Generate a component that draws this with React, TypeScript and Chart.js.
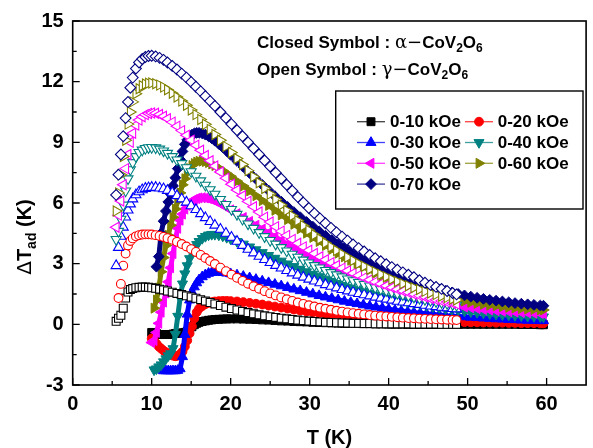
import React, { useEffect, useRef } from "react";
import { Chart, registerables } from "chart.js";
import { drawPoint } from "chart.js/helpers";

Chart.register(...registerables);

const FONT = '"Liberation Sans", Arial, Helvetica, sans-serif';

const FIELDS = ["0-10 kOe", "0-20 kOe", "0-30 kOe", "0-40 kOe", "0-50 kOe", "0-60 kOe", "0-70 kOe"];
const COLORS = ["#000000", "#FF0000", "#0000FF", "#008080", "#FF00FF", "#808000", "#000080"];
const X_TICKS = [0, 10, 20, 30, 40, 50, 60];
const Y_TICKS = [-3, 0, 3, 6, 9, 12, 15];

// temperature grid of the gamma-CoV2O6 (open symbol) curves
const T_OPEN = [
  5.5, 5.8, 6.1, 6.4, 6.7, 7.0, 7.3, 7.6, 8.0, 8.4,
  8.8, 9.2, 9.6, 10.0, 10.5, 11.0, 11.5, 12.0, 12.6, 13.2,
  13.8, 14.4, 15.0, 15.6, 16.2, 16.8, 17.4, 18.0, 18.7, 19.4,
  20.1, 20.8, 21.5, 22.2, 22.9, 23.6, 24.3, 25.0, 25.7, 26.4,
  27.1, 27.8, 28.5, 29.2, 29.9, 30.6, 31.3, 32.0, 32.7, 33.4,
  34.1, 34.8, 35.5, 36.2, 36.9, 37.6, 38.3, 39.0, 39.7, 40.4,
  41.1, 41.8, 42.5, 43.2, 43.9, 44.6, 45.3, 46.0, 46.7, 47.4,
  48.1, 48.6,
];

// temperature grid of the alpha-CoV2O6 (closed symbol) curves
const T_CLOSED = [
  10.0, 10.3, 10.6, 10.9, 11.2, 11.5, 11.8, 12.1, 12.4, 12.7,
  13.0, 13.3, 13.6, 13.9, 14.2, 14.5, 14.8, 15.1, 15.4, 15.7,
  16.0, 16.4, 16.8, 17.2, 17.6, 18.0, 18.5, 19.0, 19.5, 20.0,
  20.8, 21.6, 22.4, 23.2, 24.0, 24.8, 25.6, 26.4, 27.2, 28.0,
  28.8, 29.6, 30.4, 31.2, 32.0, 32.8, 33.6, 34.4, 35.2, 36.0,
  36.8, 37.6, 38.4, 39.2, 40.0, 40.8, 41.6, 42.4, 43.2, 44.0,
  44.8, 45.6, 46.4, 47.2, 48.0, 48.8, 49.6, 50.4, 51.2, 52.0,
  52.8, 53.6, 54.4, 55.2, 56.0, 56.8, 57.6, 58.4, 59.2, 59.6,
];

// gamma-CoV2O6, open symbols
const OPEN_10 = [
  0.15, 0.3, 0.45, 0.8, 1.3, 1.6, 1.72, 1.77, 1.81, 1.83,
  1.84, 1.84, 1.83, 1.81, 1.78, 1.74, 1.7, 1.65, 1.59, 1.53,
  1.47, 1.41, 1.35, 1.29, 1.22, 1.15, 1.08, 1.01, 0.93, 0.85,
  0.78, 0.71, 0.64, 0.58, 0.52, 0.47, 0.42, 0.38, 0.34, 0.3,
  0.27, 0.24, 0.21, 0.18, 0.16, 0.14, 0.12, 0.1, 0.09, 0.08,
  0.07, 0.06, 0.05, 0.05, 0.04, 0.04, 0.03, 0.03, 0.03, 0.02,
  0.02, 0.02, 0.02, 0.01, 0.01, 0.01, 0.01, 0.01, 0, 0,
  0, 0,
];
const OPEN_20 = [
  null, 1.3, 2.0, 2.9, 3.5, 3.9, 4.12, 4.25, 4.35, 4.41,
  4.44, 4.45, 4.45, 4.44, 4.41, 4.37, 4.32, 4.26, 4.18, 4.08,
  3.97, 3.85, 3.72, 3.58, 3.43, 3.28, 3.13, 2.98, 2.8, 2.63,
  2.46, 2.3, 2.15, 2.01, 1.88, 1.76, 1.64, 1.53, 1.43, 1.33,
  1.24, 1.16, 1.08, 1.01, 0.94, 0.88, 0.82, 0.77, 0.72, 0.67,
  0.63, 0.59, 0.55, 0.52, 0.49, 0.46, 0.43, 0.41, 0.39, 0.37,
  0.35, 0.33, 0.31, 0.3, 0.28, 0.27, 0.26, 0.25, 0.24, 0.23,
  0.22, 0.21,
];
const OPEN_30 = [
  2.9, 3.8, 4.35, 4.8, 5.3, 5.65, 5.95, 6.2, 6.4, 6.55,
  6.65, 6.72, 6.75, 6.77, 6.77, 6.74, 6.7, 6.62, 6.5, 6.36,
  6.2, 6.04, 5.86, 5.67, 5.47, 5.27, 5.08, 4.9, 4.7, 4.5,
  4.3, 4.1, 3.9, 3.71, 3.53, 3.36, 3.2, 3.05, 2.91, 2.78,
  2.66, 2.54, 2.43, 2.33, 2.23, 2.14, 2.05, 1.96, 1.88, 1.8,
  1.72, 1.65, 1.58, 1.52, 1.46, 1.4, 1.34, 1.29, 1.24, 1.19,
  1.14, 1.1, 1.06, 1.02, 0.98, 0.94, 0.9, 0.87, 0.84, 0.81,
  0.78, 0.76,
];
const OPEN_40 = [
  4.2, 4.6, 5.2, 5.9, 6.6, 7.2, 7.65, 8.0, 8.3, 8.5,
  8.62, 8.7, 8.74, 8.75, 8.73, 8.67, 8.58, 8.46, 8.3, 8.13,
  7.95, 7.75, 7.55, 7.33, 7.1, 6.88, 6.66, 6.44, 6.18, 5.93,
  5.68, 5.44, 5.2, 4.97, 4.75, 4.54, 4.34, 4.15, 3.97, 3.8,
  3.63, 3.47, 3.32, 3.18, 3.04, 2.91, 2.79, 2.67, 2.56, 2.45,
  2.35, 2.25, 2.16, 2.07, 1.98, 1.9, 1.82, 1.74, 1.67, 1.6,
  1.53, 1.47, 1.41, 1.35, 1.29, 1.23, 1.18, 1.13, 1.08, 1.03,
  0.98, 0.95,
];
const OPEN_50 = [
  4.8, 5.4, 6.1, 6.9, 7.7, 8.4, 9.0, 9.45, 9.85, 10.1,
  10.27, 10.37, 10.43, 10.45, 10.44, 10.38, 10.29, 10.17, 10.0, 9.8,
  9.58, 9.35, 9.11, 8.86, 8.61, 8.35, 8.09, 7.83, 7.53, 7.23,
  6.93, 6.64, 6.36, 6.08, 5.81, 5.55, 5.3, 5.06, 4.83, 4.61,
  4.4, 4.2, 4.01, 3.83, 3.66, 3.5, 3.34, 3.19, 3.05, 2.91,
  2.78, 2.65, 2.53, 2.42, 2.31, 2.2, 2.1, 2.0, 1.91, 1.82,
  1.73, 1.65, 1.57, 1.49, 1.42, 1.35, 1.28, 1.22, 1.16, 1.1,
  1.04, 1.0,
];
const OPEN_60 = [
  5.6, 6.5, 7.4, 8.3, 9.1, 9.9, 10.5, 11.0, 11.4, 11.65,
  11.8, 11.88, 11.92, 11.93, 11.9, 11.83, 11.73, 11.6, 11.43, 11.24,
  11.04, 10.83, 10.6, 10.37, 10.13, 9.89, 9.64, 9.39, 9.1, 8.8,
  8.5, 8.2, 7.9, 7.6, 7.3, 7.0, 6.72, 6.44, 6.17, 5.9,
  5.63, 5.37, 5.12, 4.88, 4.65, 4.43, 4.22, 4.02, 3.83, 3.65,
  3.48, 3.32, 3.16, 3.01, 2.87, 2.73, 2.6, 2.47, 2.35, 2.23,
  2.12, 2.01, 1.91, 1.81, 1.72, 1.63, 1.55, 1.47, 1.39, 1.32,
  1.25, 1.2,
];
const OPEN_70 = [
  6.4, 7.4, 8.4, 9.3, 10.2, 11.0, 11.7, 12.2, 12.65, 12.95,
  13.12, 13.22, 13.27, 13.28, 13.25, 13.18, 13.08, 12.95, 12.78, 12.6,
  12.4, 12.2, 11.98, 11.75, 11.52, 11.28, 11.04, 10.8, 10.5, 10.2,
  9.9, 9.6, 9.3, 9.0, 8.7, 8.4, 8.1, 7.8, 7.5, 7.2,
  6.9, 6.6, 6.3, 6.02, 5.75, 5.49, 5.24, 5.0, 4.77, 4.55,
  4.34, 4.14, 3.95, 3.77, 3.6, 3.43, 3.27, 3.12, 2.97, 2.83,
  2.7, 2.57, 2.45, 2.33, 2.18, 2.06, 1.95, 1.85, 1.75, 1.65,
  1.55, 1.48,
];

// alpha-CoV2O6, closed symbols
const CLOSED_10 = [
  -0.4, -0.45, -0.45, -0.5, -0.5, -0.5, -0.5, -0.5, -0.5, -0.48,
  -0.45, -0.45, -0.45, -0.42, -0.4, -0.35, -0.25, -0.12, -0.02, 0.05,
  0.1, 0.14, 0.17, 0.2, 0.22, 0.24, 0.25, 0.26, 0.27, 0.27,
  0.27, 0.26, 0.25, 0.24, 0.22, 0.21, 0.19, 0.17, 0.16, 0.14,
  0.13, 0.12, 0.1, 0.09, 0.08, 0.07, 0.06, 0.05, 0.05, 0.04,
  0.03, 0.03, 0.02, 0.02, 0.01, 0.01, 0.01, 0, 0, 0,
  0, 0, 0, 0, 0, 0, 0, 0, 0, 0,
  0, 0, 0, 0, 0, -0.01, -0.01, -0.01, -0.02, -0.02,
];
const CLOSED_20 = [
  -0.7, -0.8, -0.95, -1.1, -1.2, -1.3, -1.38, -1.45, -1.5, -1.55,
  -1.58, -1.55, -1.48, -1.35, -1.1, -0.8, -0.45, -0.1, 0.3, 0.6,
  0.78, 0.9, 1.0, 1.06, 1.1, 1.13, 1.15, 1.16, 1.16, 1.15,
  1.13, 1.1, 1.06, 1.02, 0.98, 0.93, 0.88, 0.83, 0.78, 0.73,
  0.68, 0.63, 0.59, 0.55, 0.51, 0.47, 0.44, 0.41, 0.38, 0.35,
  0.33, 0.31, 0.29, 0.27, 0.25, 0.23, 0.22, 0.2, 0.19, 0.18,
  0.17, 0.16, 0.15, 0.14, 0.13, 0.12, 0.11, 0.1, 0.1, 0.09,
  0.09, 0.08, 0.08, 0.07, 0.07, 0.06, 0.06, 0.06, 0.05, 0.05,
];
const CLOSED_30 = [
  null, null, null, null, -2.25, -2.3, -2.3, -2.3, -2.3, -2.3,
  -2.3, -2.28, -2.2, -1.6, -0.5, 0.5, 1.2, 1.6, 1.85, 2.05,
  2.2, 2.35, 2.45, 2.52, 2.56, 2.58, 2.58, 2.56, 2.53, 2.5,
  2.44, 2.37, 2.3, 2.22, 2.14, 2.06, 1.98, 1.9, 1.82, 1.74,
  1.66, 1.58, 1.5, 1.42, 1.35, 1.28, 1.21, 1.14, 1.08, 1.02,
  0.96, 0.9, 0.85, 0.8, 0.75, 0.7, 0.66, 0.62, 0.58, 0.55,
  0.52, 0.49, 0.46, 0.43, 0.41, 0.39, 0.37, 0.35, 0.33, 0.31,
  0.29, 0.27, 0.26, 0.24, 0.23, 0.21, 0.2, 0.19, 0.18, 0.18,
];
const CLOSED_40 = [
  null, -2.25, -2.2, -2.1, -2.0, -1.85, -1.7, -1.55, -1.45, -1.2,
  -0.5, 0.4, 1.3, 2.0, 2.5, 2.9, 3.25, 3.55, 3.78, 3.95,
  4.1, 4.25, 4.35, 4.42, 4.45, 4.45, 4.42, 4.37, 4.3, 4.22,
  4.1, 3.97, 3.83, 3.69, 3.55, 3.41, 3.27, 3.13, 2.99, 2.86,
  2.73, 2.6, 2.48, 2.36, 2.24, 2.13, 2.02, 1.92, 1.82, 1.72,
  1.63, 1.54, 1.46, 1.38, 1.31, 1.24, 1.17, 1.11, 1.05, 0.99,
  0.93, 0.88, 0.83, 0.78, 0.74, 0.7, 0.66, 0.62, 0.59, 0.56,
  0.53, 0.5, 0.48, 0.46, 0.44, 0.42, 0.4, 0.39, 0.38, 0.37,
];
const CLOSED_50 = [
  -0.9, -0.8, -0.4, 0.05, 0.6, 1.1, 1.55, 2.1, 2.8, 3.5,
  4.2, 4.75, 5.15, 5.45, 5.7, 5.88, 6.0, 6.1, 6.17, 6.22,
  6.25, 6.26, 6.25, 6.22, 6.17, 6.1, 6.0, 5.9, 5.78, 5.66,
  5.47, 5.28, 5.09, 4.9, 4.71, 4.52, 4.33, 4.15, 3.97, 3.79,
  3.62, 3.45, 3.28, 3.12, 2.97, 2.82, 2.68, 2.54, 2.41, 2.28,
  2.16, 2.04, 1.93, 1.82, 1.72, 1.62, 1.53, 1.44, 1.36, 1.28,
  1.21, 1.14, 1.08, 1.02, 0.96, 0.91, 0.86, 0.82, 0.78, 0.74,
  0.71, 0.68, 0.65, 0.63, 0.61, 0.59, 0.57, 0.55, 0.54, 0.53,
];
const CLOSED_60 = [
  null, 0.8, 1.2, 1.8, 2.6, 3.3, 3.9, 4.4, 4.9, 5.3,
  5.7, 6.1, 6.5, 6.9, 7.2, 7.5, 7.7, 7.85, 7.95, 8.02,
  8.06, 8.07, 8.05, 8.0, 7.93, 7.85, 7.73, 7.6, 7.46, 7.32,
  7.08, 6.84, 6.6, 6.36, 6.12, 5.88, 5.64, 5.41, 5.18, 4.95,
  4.73, 4.51, 4.3, 4.1, 3.9, 3.71, 3.52, 3.34, 3.17, 3.0,
  2.84, 2.69, 2.54, 2.4, 2.27, 2.14, 2.02, 1.91, 1.8, 1.7,
  1.6, 1.51, 1.43, 1.35, 1.28, 1.21, 1.15, 1.09, 1.04, 0.99,
  0.95, 0.91, 0.87, 0.84, 0.81, 0.78, 0.76, 0.74, 0.72, 0.71,
];
const CLOSED_70 = [
  null, null, 2.85, 3.35, 4.5, 5.1, 5.6, 6.05, 6.45, 6.85,
  7.25, 7.7, 8.15, 8.55, 8.9, 9.12, 9.28, 9.38, 9.44, 9.47,
  9.47, 9.44, 9.38, 9.3, 9.2, 9.08, 8.92, 8.75, 8.57, 8.38,
  8.08, 7.78, 7.48, 7.19, 6.9, 6.62, 6.34, 6.07, 5.81, 5.55,
  5.3, 5.06, 4.83, 4.6, 4.38, 4.17, 3.97, 3.77, 3.58, 3.4,
  3.23, 3.07, 2.91, 2.76, 2.62, 2.48, 2.35, 2.23, 2.12, 2.01,
  1.91, 1.82, 1.73, 1.65, 1.57, 1.5, 1.43, 1.37, 1.31, 1.26,
  1.21, 1.17, 1.13, 1.09, 1.05, 1.02, 0.99, 0.96, 0.93, 0.92,
];

const OPEN = [OPEN_10, OPEN_20, OPEN_30, OPEN_40, OPEN_50, OPEN_60, OPEN_70];
const CLOSED = [CLOSED_10, CLOSED_20, CLOSED_30, CLOSED_40, CLOSED_50, CLOSED_60, CLOSED_70];

const MARKERS = [
  { style: "rect", rot: 0, r: 5.6 },
  { style: "circle", rot: 0, r: 4.4 },
  { style: "triangle", rot: 0, r: 5.8 },
  { style: "triangle", rot: 180, r: 5.8 },
  { style: "triangle", rot: 270, r: 5.8 },
  { style: "triangle", rot: 90, r: 5.8 },
  { style: "rectRot", rot: 0, r: 5.4 },
];

function toPoints(ts: number[], vs: (number | null)[]) {
  const out: { x: number; y: number }[] = [];
  const n = Math.min(ts.length, vs.length);
  for (let i = 0; i < n; i++) {
    const v = vs[i];
    if (v !== null && v !== undefined) out.push({ x: ts[i], y: v });
  }
  return out;
}

type Part = { t: string; f: string; dy?: number };

function partsWidth(ctx: CanvasRenderingContext2D, parts: Part[]) {
  let w = 0;
  for (const p of parts) {
    ctx.font = p.f;
    w += ctx.measureText(p.t).width;
  }
  return w;
}

function drawParts(ctx: CanvasRenderingContext2D, parts: Part[], x: number, y: number) {
  let cx = x;
  for (const p of parts) {
    ctx.font = p.f;
    ctx.fillText(p.t, cx, y + (p.dy || 0));
    cx += ctx.measureText(p.t).width;
  }
}

const B = (s: number) => `bold ${s}px ${FONT}`;
const SERIF = (s: number) => `${s}px "DejaVu Serif", "Liberation Serif", serif`;

function formulaParts(label: string, greek: string): Part[] {
  return [
    { t: label, f: B(17) },
    { t: greek, f: SERIF(18) },
    { t: "\u2212", f: SERIF(18) },
    { t: "CoV", f: B(17) },
    { t: "2", f: B(12), dy: 4 },
    { t: "O", f: B(17) },
    { t: "6", f: B(12), dy: 4 },
  ];
}

const decorPlugin = {
  id: "decor",
  afterDraw(chart: any) {
    const ctx: CanvasRenderingContext2D = chart.ctx;
    const a = chart.chartArea;
    const xs = chart.scales.x;
    const ys = chart.scales.y;
    ctx.save();
    ctx.strokeStyle = "#000";
    ctx.lineWidth = 1.6;
    ctx.strokeRect(a.left, a.top, a.right - a.left, a.bottom - a.top);
    ctx.lineWidth = 1.3;
    ctx.beginPath();
    for (let k = 0; k < X_TICKS.length; k++) {
      const px = xs.getPixelForValue(X_TICKS[k]);
      ctx.moveTo(px, a.bottom);
      ctx.lineTo(px, a.bottom - 7);
      if (k < X_TICKS.length - 1) {
        const pm = xs.getPixelForValue((X_TICKS[k] + X_TICKS[k + 1]) / 2);
        ctx.moveTo(pm, a.bottom);
        ctx.lineTo(pm, a.bottom - 4);
      }
    }
    for (let k = 0; k < Y_TICKS.length; k++) {
      const py = ys.getPixelForValue(Y_TICKS[k]);
      ctx.moveTo(a.left, py);
      ctx.lineTo(a.left + 7, py);
      if (k < Y_TICKS.length - 1) {
        const pm = ys.getPixelForValue((Y_TICKS[k] + Y_TICKS[k + 1]) / 2);
        ctx.moveTo(a.left, pm);
        ctx.lineTo(a.left + 4, pm);
      }
    }
    ctx.stroke();

    ctx.fillStyle = "#000";
    ctx.textBaseline = "alphabetic";
    ctx.textAlign = "left";

    const xt: Part[] = [{ t: "T (K)", f: B(20) }];
    drawParts(ctx, xt, (a.left + a.right) / 2 - partsWidth(ctx, xt) / 2, 444);

    const yt: Part[] = [
      { t: "\u0394", f: `20px "DejaVu Sans", sans-serif` },
      { t: "T", f: B(20) },
      { t: "ad", f: B(14), dy: 5 },
      { t: " (K)", f: B(20) },
    ];
    ctx.save();
    ctx.translate(24, 237);
    ctx.rotate(-Math.PI / 2);
    drawParts(ctx, yt, -partsWidth(ctx, yt) / 2, 7);
    ctx.restore();

    drawParts(ctx, formulaParts("Closed Symbol : ", "\u03B1"), 257, 48);
    drawParts(ctx, formulaParts("Open Symbol : ", "\u03B3"), 257, 75);

    ctx.lineWidth = 1.4;
    ctx.strokeStyle = "#000";
    ctx.strokeRect(335.7, 91, 247.3, 118);
    const rows = [121.7, 142.5, 163.3, 184.1];
    const cols = [
      { l: 357, r: 385, tx: 390 },
      { l: 465, r: 493, tx: 497.7 },
    ];
    ctx.textBaseline = "middle";
    for (let i = 0; i < FIELDS.length; i++) {
      const c = cols[i % 2];
      const y = rows[Math.floor(i / 2)];
      ctx.strokeStyle = COLORS[i];
      ctx.globalAlpha = 0.75;
      ctx.lineWidth = 1.3;
      ctx.beginPath();
      ctx.moveTo(c.l, y);
      ctx.lineTo(c.r, y);
      ctx.stroke();
      ctx.globalAlpha = 1;
      ctx.fillStyle = COLORS[i];
      ctx.lineWidth = 1;
      drawPoint(ctx, { pointStyle: MARKERS[i].style, rotation: MARKERS[i].rot, radius: MARKERS[i].r, borderWidth: 1 } as any, (c.l + c.r) / 2, y);
      ctx.fillStyle = "#000";
      ctx.font = B(17);
      ctx.fillText(FIELDS[i], c.tx, y + 1);
    }
    ctx.restore();
  },
};

export default function App() {
  const ref = useRef<HTMLCanvasElement>(null);
  useEffect(() => {
    const canvas = ref.current;
    if (!canvas) return;
    const closedSets = CLOSED.map((vals, i) => ({
      label: `alpha ${FIELDS[i]}`,
      data: toPoints(T_CLOSED, vals),
      showLine: true,
      borderColor: COLORS[i],
      borderWidth: 5,
      borderJoinStyle: "round",
      backgroundColor: COLORS[i],
      pointStyle: MARKERS[i].style,
      pointRotation: MARKERS[i].rot,
      pointRadius: MARKERS[i].r,
      pointHoverRadius: MARKERS[i].r,
      pointBackgroundColor: COLORS[i],
      pointBorderColor: COLORS[i],
      pointBorderWidth: 1,
      order: 30 - i,
    }));
    const openSets = OPEN.map((vals, i) => ({
      label: `gamma ${FIELDS[i]}`,
      data: toPoints(T_OPEN, vals),
      showLine: false,
      pointStyle: MARKERS[i].style,
      pointRotation: MARKERS[i].rot,
      pointRadius: MARKERS[i].r,
      pointHoverRadius: MARKERS[i].r,
      pointBackgroundColor: "#FFFFFF",
      pointBorderColor: COLORS[i],
      pointBorderWidth: 1.1,
      order: 10 - i,
    }));
    const chart = new Chart(canvas, {
      type: "scatter",
      data: { datasets: [...closedSets, ...openSets] as any },
      options: {
        animation: false,
        responsive: false,
        devicePixelRatio: 1,
        layout: { padding: { top: 20.5, right: 0.3, left: 0, bottom: 0 } },
        plugins: { legend: { display: false }, tooltip: { enabled: false } },
        scales: {
          x: {
            type: "linear",
            min: 0,
            max: 65,
            afterBuildTicks: (s: any) => {
              s.ticks = X_TICKS.map((v) => ({ value: v }));
            },
            afterFit: (s: any) => {
              s.height = 63;
            },
            grid: { display: false, drawTicks: false },
            border: { display: false },
            ticks: {
              color: "#000",
              padding: 7,
              maxRotation: 0,
              autoSkip: false,
              font: { family: FONT, size: 20, weight: "bold" },
            },
          },
          y: {
            type: "linear",
            min: -3,
            max: 15,
            afterBuildTicks: (s: any) => {
              s.ticks = Y_TICKS.map((v) => ({ value: v }));
            },
            afterFit: (s: any) => {
              s.width = 72.7;
            },
            grid: { display: false, drawTicks: false },
            border: { display: false },
            ticks: {
              color: "#000",
              padding: 9,
              autoSkip: false,
              font: { family: FONT, size: 20, weight: "bold" },
            },
          },
        },
      } as any,
      plugins: [decorPlugin],
    });
    return () => chart.destroy();
  }, []);
  return (
    <div style={{ position: "fixed", left: 0, top: 0, width: 593, height: 448, background: "#fff" }}>
      <canvas ref={ref} width={593} height={448} style={{ display: "block", width: 593, height: 448 }} />
    </div>
  );
}
